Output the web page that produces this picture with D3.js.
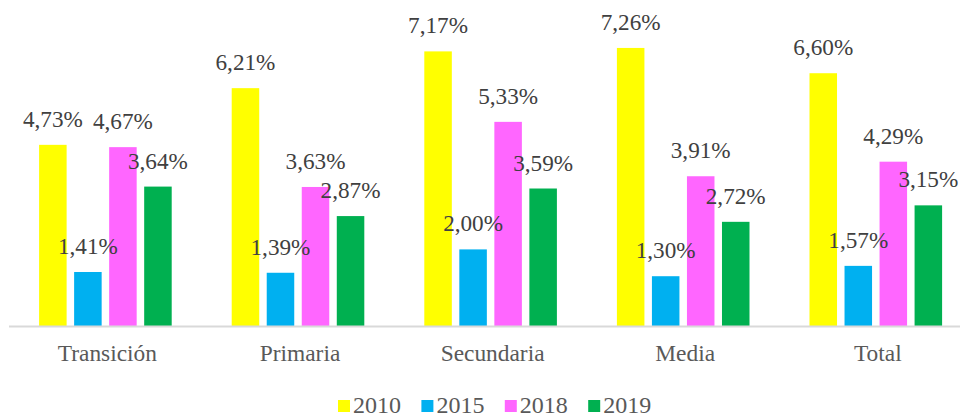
<!DOCTYPE html>
<html>
<head>
<meta charset="utf-8">
<script src="https://cdn.jsdelivr.net/npm/d3@7"></script>
<style>
  body { margin: 0; background: #fff; }
  svg { display: block; }
</style>
</head>
<body>
<svg width="960" height="419"></svg>
<script>
// datos
const categorias = ['Transición', 'Primaria', 'Secundaria', 'Media', 'Total'];
const series = ['2010', '2015', '2018', '2019'];
const colores = ['#FFFF00', '#00B0F0', '#FF66FF', '#00B050'];
const v2010 = [4.73, 6.21, 7.17, 7.26, 6.60];
const v2015 = [1.41, 1.39, 2.00, 1.30, 1.57];
const v2018 = [4.67, 3.63, 5.33, 3.91, 4.29];
const v2019 = [3.64, 2.87, 3.59, 2.72, 3.15];
const valores = [v2010, v2015, v2018, v2019];

const svg = d3.select('svg');
const fuente = '"Liberation Serif", "Times New Roman", serif';

const x0 = d3.scaleBand().domain(categorias).range([9.1, 972.1]).padding(0);
const x1 = d3.scaleBand().domain(series).range([30, 162.6]).paddingInner(0.2143).paddingOuter(0);
const y = d3.scaleLinear().domain([0, 8]).range([326, 19.6]);

// barras por categoria
const grupos = svg.append('g')
    .selectAll('g')
    .data(categorias)
    .join('g')
    .attr('transform', d => `translate(${x0(d)},0)`);

const datosGrupo = (c, i) => series.map((s, j) => ({ serie: s, valor: valores[j][i], color: colores[j] }));

grupos.selectAll('rect')
    .data((c, i) => datosGrupo(c, i))
    .join('rect')
    .attr('x', d => x1(d.serie))
    .attr('width', x1.bandwidth())
    .attr('y', d => y(d.valor))
    .attr('height', d => y(0) - y(d.valor))
    .attr('fill', d => d.color);

// eje x (solo la linea y los nombres)
svg.append('line')
    .attr('x1', 9).attr('x2', 960)
    .attr('y1', y(0) + 0.5).attr('y2', y(0) + 0.5)
    .attr('stroke', '#d9d9d9')
    .attr('stroke-width', 1.8);

svg.append('g')
    .selectAll('text')
    .data(categorias)
    .join('text')
    .attr('x', d => x0(d) + x0.bandwidth() / 2 + 2)
    .attr('y', 361)
    .attr('text-anchor', 'middle')
    .attr('font-family', fuente)
    .attr('font-size', 23.4)
    .attr('fill', '#595959')
    .text(d => d);

// etiquetas de datos
grupos.selectAll('text')
    .data((c, i) => datosGrupo(c, i))
    .join('text')
    .attr('x', d => x1(d.serie) + x1.bandwidth() / 2)
    .attr('y', d => y(d.valor) - 18)
    .attr('text-anchor', 'middle')
    .attr('font-family', fuente)
    .attr('font-size', 23.2)
    .attr('fill', '#404040')
    .text(d => d.valor.toFixed(2).replace('.', ',') + '%');

// leyenda
const xl = d3.scaleBand().domain(series).range([338, 338 + 4 * 83.4]);
const leyenda = svg.append('g')
    .selectAll('g')
    .data(series)
    .join('g')
    .attr('transform', d => `translate(${xl(d)},0)`);
leyenda.append('rect')
    .attr('y', 400)
    .attr('width', 12)
    .attr('height', 12)
    .attr('fill', (d, i) => colores[i]);
leyenda.append('text')
    .attr('x', 15)
    .attr('y', 413)
    .attr('font-family', fuente)
    .attr('font-size', 24)
    .attr('fill', '#595959')
    .text(d => d);
</script>
</body>
</html>
